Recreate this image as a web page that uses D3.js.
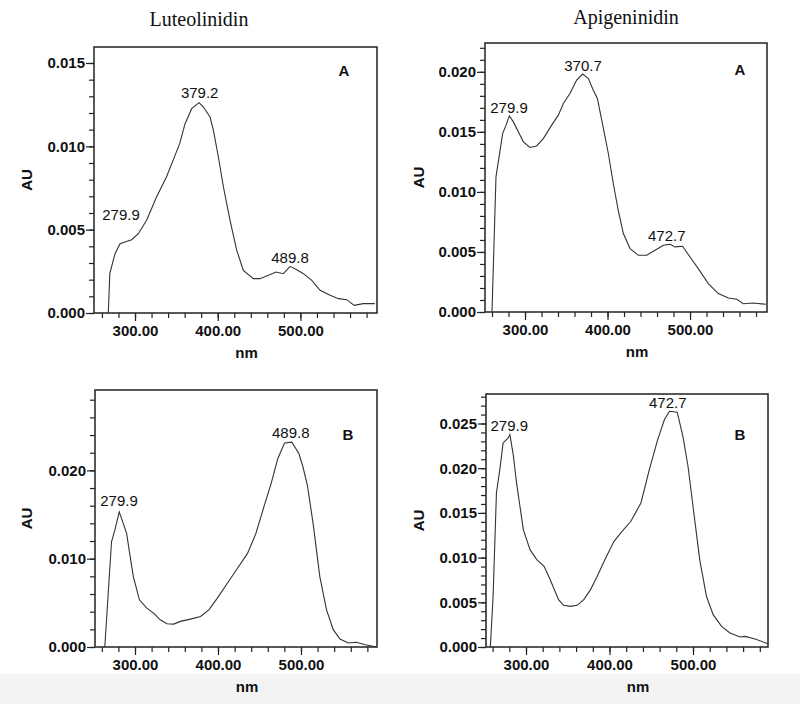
<!DOCTYPE html>
<html lang="en">
<head>
<meta charset="UTF-8">
<script src="https://d3js.org/d3.v7.min.js"></script>
<title>UV-Vis spectra</title>
<style>
  body { margin: 0; background: #fff; }
  text { font-family: "Liberation Sans", Arial, sans-serif; fill: #111; }
</style>
</head>
<body>
<script>
// spectra: [nm, AU]
var lutA = [[267.7,0],[269.5,0.00236],[275.8,0.00356],[281.9,0.00416],[287.9,0.00426],[296,0.0044],
  [304,0.00476],[314,0.00556],[326,0.00696],[338,0.00816],[346,0.00916],[354,0.01016],[360.5,0.01136],
  [368.5,0.01226],[377.4,0.01262],[382.7,0.01236],[390.7,0.01176],[394.8,0.01096],[400.8,0.00936],
  [406.9,0.00756],[414.9,0.00556],[423,0.00376],[431,0.00256],[443,0.00206],[451,0.00206],[461.3,0.00226],
  [470.6,0.00246],[479.4,0.00236],[487.5,0.0028],[495.6,0.0026],[503.6,0.00236],[513.7,0.00196],
  [523.8,0.00136],[535.9,0.00106],[546,0.00086],[556,0.0008],[565,0.00046],[576,0.00056],[590,0.00056]];

var apiA = [[260,0],[264.8,0.01125],[268.5,0.0129],[272.9,0.01486],[277,0.01556],[281,0.01633],
  [285.9,0.01583],[291.9,0.015],[298,0.01417],[306,0.0137],[314,0.01383],[322.2,0.01444],[332.3,0.01556],
  [340.4,0.01639],[346.5,0.01736],[354.5,0.01819],[362.6,0.01931],[369.9,0.01981],[376.8,0.01944],
  [382.8,0.01847],[387.7,0.01778],[393,0.01597],[401,0.0132],[407,0.0107],[413,0.00847],[419.2,0.00653],
  [427.3,0.00528],[437.4,0.00472],[447.5,0.00472],[457.6,0.00514],[467.7,0.00556],[475.8,0.00564],
  [481.8,0.00542],[491,0.00547],[500,0.00458],[510,0.00361],[522.2,0.00236],[534.3,0.00153],
  [546.5,0.00117],[556.6,0.00106],[564.6,0.00069],[576.8,0.00075],[592,0.00064]];

var lutB = [[263.6,0],[271.7,0.01192],[275.7,0.01323],[281,0.0153],[285.8,0.014],[289.9,0.01286],
  [293.9,0.0104],[298,0.00797],[305.3,0.00534],[314.2,0.0044],[322.3,0.00384],[330.4,0.00308],
  [338.5,0.00263],[346.6,0.00259],[354.7,0.0029],[366.8,0.00316],[379,0.00346],[389,0.00421],
  [399.2,0.00553],[411.3,0.00722],[423.5,0.00891],[435.6,0.0106],[445.7,0.01286],[455.9,0.01606],
  [464,0.0185],[472,0.02132],[480.2,0.02309],[489,0.0232],[497.6,0.02188],[502.4,0.02038],
  [507.7,0.01831],[514.6,0.01399],[522.7,0.00797],[530.8,0.00421],[538.9,0.00196],[547,0.0009],
  [557,0.00045],[567,0.00053],[577.3,0.00026],[591.5,0]];

var apiB = [[257.3,0],[260.6,0.00567],[264.6,0.01723],[268.6,0.01984],[272.6,0.02283],[278.7,0.02339],
  [280.7,0.02376],[284.7,0.02152],[288.7,0.01835],[296.8,0.01313],[304.8,0.01089],[312.9,0.00977],
  [321.7,0.00903],[329,0.00753],[339,0.0053],[345,0.00466],[353.1,0.00455],[361.2,0.00466],
  [369.2,0.0053],[377.3,0.00642],[385.3,0.00791],[395.4,0.00996],[405.4,0.01182],[413.5,0.01276],
  [425.6,0.01406],[437.6,0.01611],[447.7,0.01984],[457.7,0.0232],[465.8,0.02544],[471.8,0.02637],
  [481.1,0.02626],[487.9,0.02357],[494,0.02022],[500,0.01574],[508,0.00977],[516.1,0.00567],
  [524.1,0.00362],[534.2,0.00231],[544.3,0.00157],[556.3,0.00112],[562.4,0.00119],[574.4,0.0009],
  [589.5,0.00037]];

// peak labels: [text, nm, AU] (where the label sits)
var lutAPeaks = [["379.2",378.2,0.0129],["279.9",283.1,0.00558],["489.8",487.4,0.0030]];
var apiAPeaks = [["370.7",370.3,0.02006],["279.9",280.6,0.0166],["472.7",471.8,0.00592]];
var lutBPeaks = [["489.8",487.7,0.02366],["279.9",280.7,0.01592]];
var apiBPeaks = [["472.7",469.8,0.02674],["279.9",280,0.02413]];

var titles = ["Luteolinidin", "Apigeninidin"];
var xMajor = [300, 400, 500];
var xMinor = d3.range(260, 581, 20);

var svg = d3.select("body").append("svg").attr("width", 800).attr("height", 704);

svg.append("rect").attr("x", 0).attr("y", 674).attr("width", 800).attr("height", 30).attr("fill", "#f3f3f3");

svg.append("text").attr("x", 199).attr("y", 26).attr("text-anchor", "middle")
  .style("font-family", "'Liberation Serif', 'Times New Roman', serif").style("font-size", "20px")
  .text(titles[0]);
svg.append("text").attr("x", 626).attr("y", 24).attr("text-anchor", "middle")
  .style("font-family", "'Liberation Serif', 'Times New Roman', serif").style("font-size", "20px")
  .text(titles[1]);

var panels = [
  {data: lutA, peaks: lutAPeaks, tag: "A", tagAt: [552.7, 0.01422], box: [94, 47, 377, 313],
   xd: [250.4, 592.6], yd: [0, 0.01596], yMajor: [0, 0.005, 0.010, 0.015], yStep: 0.001, auX: 26},
  {data: apiA, peaks: apiAPeaks, tag: "A", tagAt: [560.6, 0.01973], box: [485, 43, 767, 312],
   xd: [251.5, 593.3], yd: [0, 0.0224], yMajor: [0, 0.005, 0.010, 0.015, 0.020], yStep: 0.001, auX: 418},
  {data: lutB, peaks: lutBPeaks, tag: "B", tagAt: [556.6, 0.02347], box: [95, 390, 377, 647],
   xd: [251.8, 591.6], yd: [0, 0.0291], yMajor: [0, 0.010, 0.020], yStep: 0.002, auX: 26},
  {data: apiB, peaks: apiBPeaks, tag: "B", tagAt: [556.3, 0.02312], box: [486, 394, 768, 647],
   xd: [252.1, 589.8], yd: [0, 0.0283], yMajor: [0, 0.005, 0.010, 0.015, 0.020, 0.025], yStep: 0.001, auX: 418}
];

panels.forEach(function(p) {
  var l = p.box[0], t = p.box[1], r = p.box[2], b = p.box[3];
  var x = d3.scaleLinear().domain(p.xd).range([l, r]);
  var y = d3.scaleLinear().domain(p.yd).range([b, t]);
  var g = svg.append("g");

  var yMinor = d3.range(0, p.yd[1] + 1e-9, p.yStep);

  // minor ticks
  g.append("g").attr("transform", "translate(" + l + ",0)")
    .call(d3.axisLeft(y).tickValues(yMinor).tickSize(5).tickFormat(""))
    .call(function(s) { s.select(".domain").remove(); });
  g.append("g").attr("transform", "translate(0," + b + ")")
    .call(d3.axisBottom(x).tickValues(xMinor).tickSize(5).tickFormat(""))
    .call(function(s) { s.select(".domain").remove(); });

  // major ticks
  g.append("g").attr("class", "yax").attr("transform", "translate(" + l + ",0)")
    .call(d3.axisLeft(y).tickValues(p.yMajor).tickSize(8).tickPadding(1).tickFormat(d3.format(".3f")))
    .call(function(s) { s.select(".domain").remove(); });
  g.append("g").attr("class", "xax").attr("transform", "translate(0," + b + ")")
    .call(d3.axisBottom(x).tickValues(xMajor).tickSize(8).tickPadding(4).tickFormat(d3.format(".2f")))
    .call(function(s) { s.select(".domain").remove(); });

  g.selectAll(".tick line").attr("stroke", "#222").attr("stroke-width", 1.2);
  g.selectAll(".tick text").style("font-family", "'Liberation Sans', Arial, sans-serif")
    .style("font-size", "15px").style("font-weight", "bold").attr("fill", "#111");

  g.append("rect").attr("x", l).attr("y", t).attr("width", r - l).attr("height", b - t)
    .attr("fill", "none").attr("stroke", "#222").attr("stroke-width", 1.5);

  g.append("path").datum(p.data)
    .attr("d", d3.line().x(function(d) { return x(d[0]); }).y(function(d) { return y(d[1]); }))
    .attr("fill", "none").attr("stroke", "#333").attr("stroke-width", 1.1);

  g.selectAll(".peak").data(p.peaks).enter().append("text").attr("class", "peak")
    .attr("x", function(d) { return x(d[1]); })
    .attr("y", function(d) { return y(d[2]); })
    .attr("text-anchor", "middle").style("font-size", "15px")
    .text(function(d) { return d[0]; });

  g.append("text").attr("x", x(p.tagAt[0])).attr("y", y(p.tagAt[1]))
    .attr("text-anchor", "middle").style("font-size", "15px").style("font-weight", "bold")
    .text(p.tag);

  g.append("text").attr("transform", "translate(" + (p.auX + 6) + "," + ((t + b) / 2) + ") rotate(-90)")
    .attr("text-anchor", "middle").style("font-size", "15px").style("font-weight", "bold")
    .text("AU");

  g.append("text").attr("x", (l + r) / 2 + 11).attr("y", b + 45)
    .attr("text-anchor", "middle").style("font-size", "15px").style("font-weight", "bold")
    .text("nm");
});
</script>
</body>
</html>
